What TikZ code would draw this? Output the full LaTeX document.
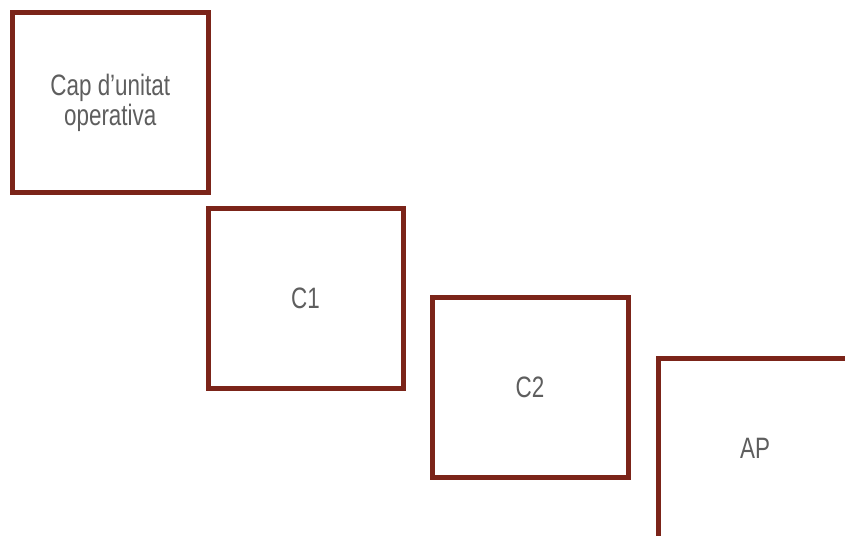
\documentclass[tikz,border=0pt]{standalone}
\usepackage{fontspec}
\setmainfont{Liberation Sans}[FakeStretch=0.76]
\definecolor{boxred}{HTML}{7B2419}
\definecolor{txtgray}{HTML}{5E5E5E}
\begin{document}
\begin{tikzpicture}[x=1pt,y=-1pt,
  unitbox/.style={draw=boxred,line width=5pt,minimum width=195.5pt,minimum height=180pt,inner sep=0pt,
    text=txtgray,font=\fontsize{29.5}{30}\selectfont,align=center},
  aplabel/.style={text=txtgray,font=\fontsize{29.5}{30}\selectfont}]
\useasboundingbox (0,0) rectangle (845,535);
\node[unitbox,minimum width=195.5pt,minimum height=180pt] (cap) at (110.25,102.5) {Cap d’unitat\\operativa};
\node[unitbox,minimum width=195pt,minimum height=180pt] (c1) at (305.5,298) {C1};
\node[unitbox,minimum width=196pt,minimum height=180pt] (c2) at (530,387) {C2};
\coordinate (apTL) at (658,358);
\coordinate (apTR) at (850,358);
\coordinate (apBL) at (658,540);
\draw[boxred,line width=5pt] (apBL) -- (apTL) -- (apTR);
\node[aplabel] (ap) at (755,448) {AP};
\end{tikzpicture}
\end{document}
